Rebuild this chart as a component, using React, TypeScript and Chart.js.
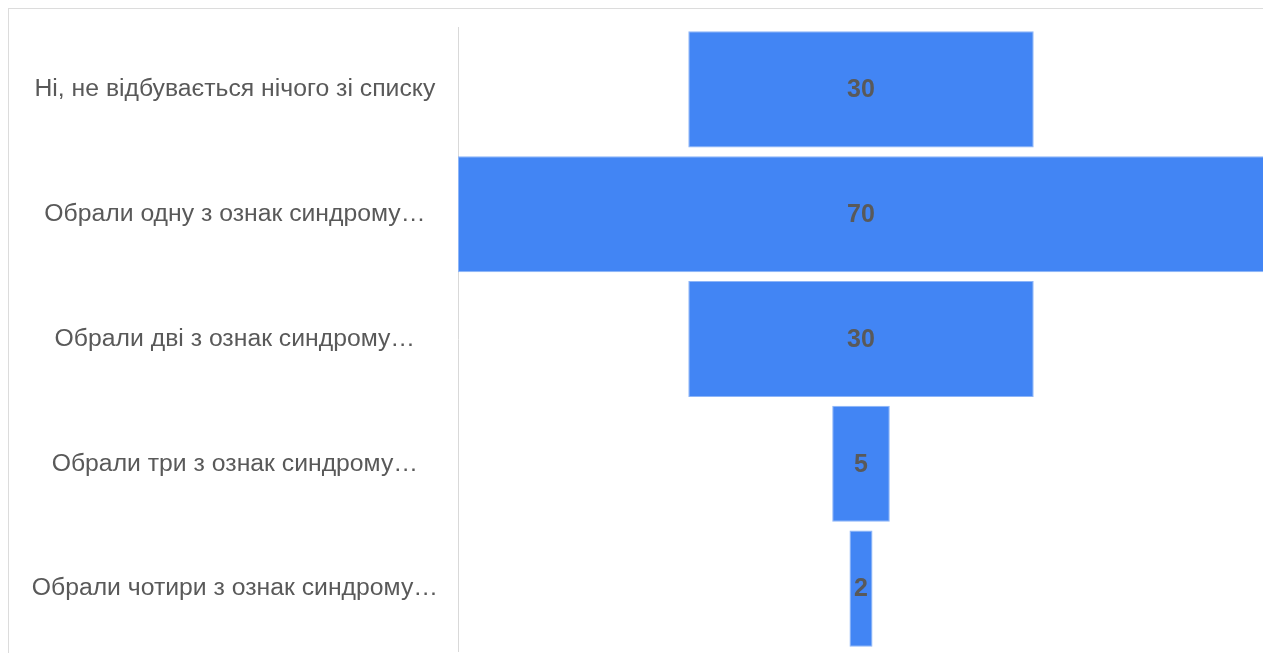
import React, { useEffect, useRef } from "react";
import { Chart, registerables } from "chart.js";

Chart.register(...registerables);

const categories: string[] = [
  "Ні, не відбувається нічого зі списку",
  "Обрали одну з ознак синдрому…",
  "Обрали дві з ознак синдрому…",
  "Обрали три з ознак синдрому…",
  "Обрали чотири з ознак синдрому…",
];
const values: number[] = [30, 70, 30, 5, 2];
const maxValue = 70;

const valueLabels = {
  id: "valueLabels",
  afterDatasetsDraw(chart: any) {
    const ctx = chart.ctx;
    const meta = chart.getDatasetMeta(0);
    ctx.save();
    ctx.font = "bold 25px 'Liberation Sans', Arial, sans-serif";
    ctx.fillStyle = "#595959";
    ctx.textAlign = "center";
    ctx.textBaseline = "middle";
    meta.data.forEach((bar: any, i: number) => {
      const p = bar.getProps(["x", "base", "y"], true);
      ctx.fillText(String(values[i]), (p.x + p.base) / 2, p.y + 1);
    });
    ctx.restore();
  },
};

export default function App() {
  const ref = useRef<HTMLCanvasElement | null>(null);
  useEffect(() => {
    if (!ref.current) return;
    const chart = new Chart(ref.current, {
      type: "bar",
      data: {
        labels: categories,
        datasets: [
          {
            data: values.map((v) => [-v / 2, v / 2]) as any,
            backgroundColor: "#4285f4",
            borderColor: "#8db5f8",
            borderWidth: 1,
            borderSkipped: false,
            categoryPercentage: 1,
            barPercentage: 0.93,
          },
        ],
      },
      options: {
        indexAxis: "y",
        animation: false,
        responsive: true,
        maintainAspectRatio: false,
        layout: { padding: { top: 18, bottom: 2, right: 7, left: 0 } },
        plugins: { legend: { display: false }, tooltip: { enabled: false } },
        scales: {
          x: { display: false, min: -maxValue / 2, max: maxValue / 2 },
          y: {
            grid: { display: false },
            border: { display: true, color: "#d9d9d9", width: 1 },
            ticks: {
              crossAlign: "center",
              padding: 12,
              color: "#595959",
              font: { family: "'Liberation Sans', Arial, sans-serif", size: 24.75 },
            },
            afterFit(scale: any) {
              scale.width = 449;
              scale.paddingTop = 0;
              scale.paddingBottom = 0;
            },
          },
        },
      },
      plugins: [valueLabels],
    });
    return () => chart.destroy();
  }, []);
  return (
    <div
      style={{
        width: 1262,
        height: 644,
        borderTop: "1px solid #dcdcdc",
        borderLeft: "1px solid #dcdcdc",
        position: "relative",
      }}
    >
      <canvas ref={ref} />
    </div>
  );
}
